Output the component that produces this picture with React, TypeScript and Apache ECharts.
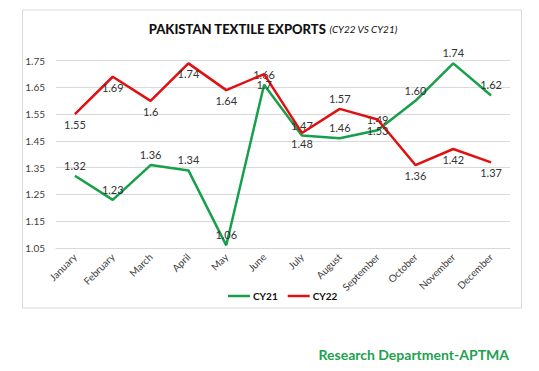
import React, { useEffect, useRef } from "react";
import * as echarts from "echarts";

const months = ["January", "February", "March", "April", "May", "June", "July", "August", "September", "October", "November", "December"];
const cy21 = [1.32, 1.23, 1.36, 1.34, 1.06, 1.66, 1.47, 1.46, 1.49, 1.60, 1.74, 1.62];
const cy22 = [1.55, 1.69, 1.6, 1.74, 1.64, 1.7, 1.48, 1.57, 1.53, 1.36, 1.42, 1.37];
const cy21Labels = ["1.32", "1.23", "1.36", "1.34", "1.06", "1.66", "1.47", "1.46", "1.49", "1.60", "1.74", "1.62"];
const cy22Labels = ["1.55", "1.69", "1.6", "1.74", "1.64", "1.7", "1.48", "1.57", "1.53", "1.36", "1.42", "1.37"];
const cy22LabelPos = ["bottom", "bottom", "bottom", "bottom", "bottom", "bottom", "bottom", "top", "bottom", "bottom", "bottom", "bottom"];

const GREEN = "#16a04a";
const RED = "#e01010";
const FONT = "Lato, 'Noto Sans', sans-serif";

export default function App() {
  const ref = useRef<HTMLDivElement>(null);
  useEffect(() => {
    document.body.style.margin = "0";
    const chart = echarts.init(ref.current!, null, { renderer: "svg" });
    const labelStyle = { show: true, fontSize: 11, color: "#333333", fontFamily: FONT, distance: 5 };
    chart.setOption({
      animation: false,
      backgroundColor: "#ffffff",
      textStyle: { fontFamily: FONT },
      graphic: [
        {
          type: "rect",
          shape: { x: 22.5, y: 10, width: 499, height: 298 },
          style: { fill: "#ffffff", stroke: "#d9d9d9", lineWidth: 1 },
          z: -10,
        },
        {
          type: "text",
          x: 273,
          y: 29,
          style: {
            text: "{a|PAKISTAN TEXTILE EXPORTS} {b|(CY22 VS CY21)}",
            align: "center",
            verticalAlign: "middle",
            rich: {
              a: { fontSize: 13, fontWeight: 900, fill: "#111111", fontFamily: FONT },
              b: { fontSize: 10, fontStyle: "italic", fill: "#111111", fontFamily: FONT },
            },
          },
        },
        {
          type: "text",
          x: 509,
          y: 354,
          style: {
            text: "Research Department-APTMA",
            align: "right",
            verticalAlign: "middle",
            fontSize: 14,
            fontWeight: "bold",
            fill: "#22a14f",
            fontFamily: FONT,
          },
        },
      ],
      legend: {
        left: 223,
        top: 286,
        icon: "rect",
        itemWidth: 22,
        itemHeight: 2.5,
        itemGap: 10,
        textStyle: { fontSize: 10, fontWeight: "bold", color: "#111111", fontFamily: FONT, padding: [0, 0, 0, -2] },
        data: ["CY21", "CY22"],
      },
      grid: { left: 56, right: 29, top: 60.7, bottom: 123, containLabel: false },
      xAxis: {
        type: "category",
        data: months,
        boundaryGap: true,
        axisLine: { show: true, lineStyle: { color: "#d9d9d9" } },
        axisTick: { show: false },
        axisLabel: { rotate: 45, fontSize: 10, color: "#404040", fontFamily: FONT, margin: 7 },
      },
      yAxis: {
        type: "value",
        min: 1.05,
        max: 1.75,
        interval: 0.1,
        axisLine: { show: false },
        axisTick: { show: false },
        splitLine: { lineStyle: { color: "#d9d9d9", width: 1 } },
        axisLabel: {
          fontSize: 10,
          color: "#404040",
          fontFamily: FONT,
          margin: 11,
          formatter: (v: number) => v.toFixed(2),
        },
      },
      series: [
        {
          name: "CY21",
          type: "line",
          data: cy21.map((v, i) => ({ value: v, label: { formatter: cy21Labels[i] } })),
          color: GREEN,
          lineStyle: { color: GREEN, width: 2.5 },
          symbol: "circle",
          symbolSize: 0,
          label: { ...labelStyle, position: "top" },
          z: 2,
        },
        {
          name: "CY22",
          type: "line",
          data: cy22.map((v, i) => ({ value: v, label: { formatter: cy22Labels[i], position: cy22LabelPos[i] } })),
          color: RED,
          lineStyle: { color: RED, width: 2.5 },
          symbol: "circle",
          symbolSize: 0,
          label: { ...labelStyle, position: "bottom" },
          z: 3,
        },
      ],
    });
    return () => chart.dispose();
  }, []);
  return <div ref={ref} style={{ width: 539, height: 371 }} />;
}
